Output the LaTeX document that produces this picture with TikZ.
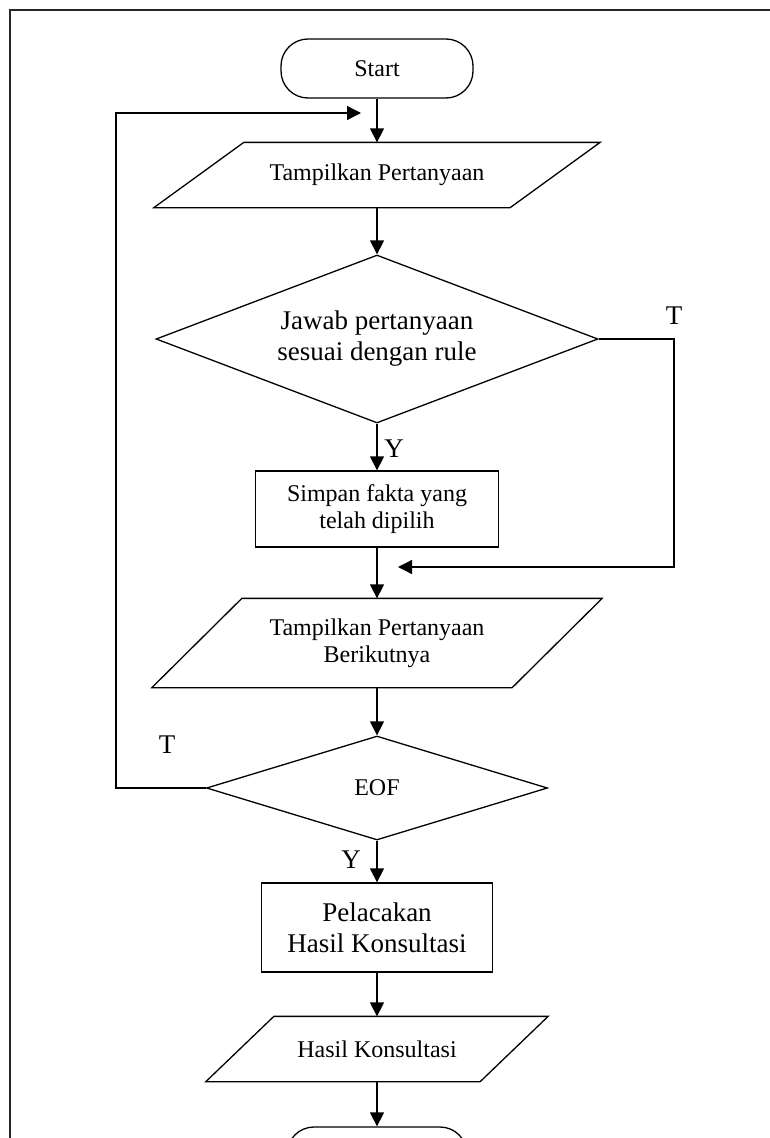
\documentclass[tikz,border=0pt]{standalone}
\usepackage{fontspec}
\setmainfont{Liberation Serif}
\usetikzlibrary{shapes.geometric,arrows.meta}
\begin{document}
\begin{tikzpicture}[x=1pt,y=-1pt,
  line width=1.3pt,
  base/.style={line width=1.3pt, inner sep=0pt, align=center},
  small/.style={font=\fontsize{24}{27}\selectfont},
  large/.style={font=\fontsize{27}{31}\selectfont},
  term/.style={base, small, draw, rectangle, rounded corners=27pt},
  io/.style={base, small, rectangle},
  proc/.style={base, draw, rectangle},
  decision/.style={base, draw, diamond},
  flow/.style={-{Triangle[length=14pt,width=14pt]}},
  lbl/.style={inner sep=0pt, font=\fontsize{27}{31}\selectfont}
]
\useasboundingbox (0,0) rectangle (770,1138);

% page frame
\draw[line width=2pt, black!85] (10,1150) -- (10,10) -- (780,10);

% nodes
\node[term, minimum width=192pt, minimum height=59pt] (start) at (377,68.5) {Start};
\node[io, minimum width=355pt, minimum height=64pt] (p1) at (377,175) {Tampilkan Pertanyaan};
\node[decision, large, aspect=2.63, minimum width=442pt, minimum height=168pt] (d1) at (377,339)
  {Jawab pertanyaan\\sesuai dengan rule};
\node[proc, small, minimum width=243pt, minimum height=76pt] (r1) at (377,509)
  {Simpan fakta yang\\telah dipilih};
\node[io, minimum width=359pt, minimum height=88pt] (p2) at (377,643)
  {Tampilkan Pertanyaan\\Berikutnya};
\node[decision, small, aspect=3.28, minimum width=341pt, minimum height=104pt] (eof) at (377,788) {EOF};
\node[proc, large, minimum width=231pt, minimum height=89pt] (r2) at (377,927.5)
  {Pelacakan\\Hasil Konsultasi};
\node[io, minimum width=273pt, minimum height=64pt] (p3) at (377,1049) {Hasil Konsultasi};
\node[term, minimum width=180pt, minimum height=60pt] (end) at (377,1157) {};

% slanted input/output outlines
\draw ([xshift=45pt]p1.north west) -- ([xshift=45pt]p1.north east)
  -- ([xshift=-45pt]p1.south east) -- ([xshift=-45pt]p1.south west) -- cycle;
\draw ([xshift=45pt]p2.north west) -- ([xshift=45pt]p2.north east)
  -- ([xshift=-45pt]p2.south east) -- ([xshift=-45pt]p2.south west) -- cycle;
\draw ([xshift=34pt]p3.north west) -- ([xshift=34pt]p3.north east)
  -- ([xshift=-34pt]p3.south east) -- ([xshift=-34pt]p3.south west) -- cycle;

% main flow
\draw[flow] (start.south) -- (p1.north);
\draw[flow] (p1.south) -- (d1.north);
\draw[flow] (d1.south) -- (r1.north);
\draw[flow] (r1.south) -- (p2.north);
\draw[flow] (p2.south) -- (eof.north);
\draw[flow] (eof.south) -- (r2.north);
\draw[flow] (r2.south) -- (p3.north);
\draw[flow] (p3.south) -- (end.north);

% "no" branch of the rule check
\coordinate (rturn) at (674,567);
\coordinate (rtip) at (398,567);
\draw[flow] (d1.east) -| (rturn) -- (rtip);

% loop back when not at end of file
\coordinate (lturn) at (116,113);
\coordinate (ltip) at (361,113);
\draw[flow] (eof.west) -| (lturn) -- (ltip);

% branch labels
\node[lbl] (t1) at (674,316) {T};
\node[lbl] (y1) at (394,449) {Y};
\node[lbl] (t2) at (167,745) {T};
\node[lbl] (y2) at (351,860) {Y};
\end{tikzpicture}
\end{document}
